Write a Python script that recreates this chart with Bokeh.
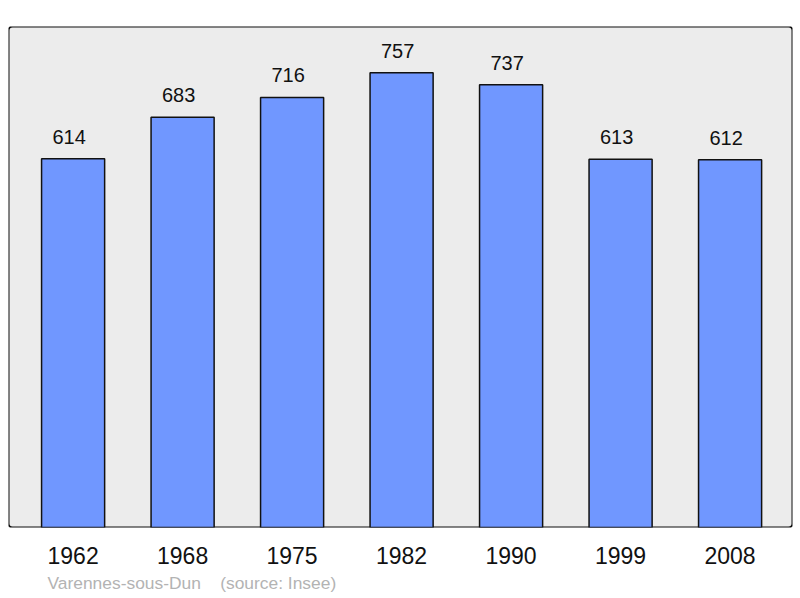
from bokeh.plotting import figure
from bokeh.models import ColumnDataSource, FixedTicker, BoxAnnotation, Title, Range1d
from bokeh.core.properties import value
from bokeh.embed import file_html
from bokeh.resources import INLINE

years = ["1962", "1968", "1975", "1982", "1990", "1999", "2008"]
population = [614, 683, 716, 757, 737, 613, 612]

xs = list(range(len(years)))
source = ColumnDataSource(data=dict(x=xs, top=population, label=[str(v) for v in population]))

p = figure(width=794, height=596, output_backend="svg", toolbar_location=None,
           x_range=Range1d(-0.59, 6.57), y_range=Range1d(0, 834),
           min_border_left=8, min_border_right=2, min_border_top=26, min_border_bottom=69)
p.background_fill_color = None
p.border_fill_color = "white"
p.outline_line_color = None
p.xgrid.visible = False
p.ygrid.visible = False
p.yaxis.visible = False

# grey panel with rounded black border behind the bars
frame = BoxAnnotation(fill_color="#ececec", fill_alpha=1.0, line_color="#111111",
                      line_alpha=1.0, line_width=2, border_radius=4, level="underlay")
p.add_layout(frame)

p.vbar(x="x", top="top", width=0.576, source=source,
       fill_color="#7097ff", line_color="#111111", line_width=1.5)

p.text(x="x", y="top", text="label", source=source, text_align="center",
       text_baseline="bottom", y_offset=-15, x_offset=-4, text_font=value("Liberation Sans"),
       text_font_size="20px", text_color="#111111")

p.xaxis.ticker = FixedTicker(ticks=xs)
p.xaxis.major_label_overrides = {i: y for i, y in enumerate(years)}
p.xaxis.axis_line_color = None
p.xaxis.major_tick_line_color = None
p.xaxis.minor_tick_line_color = None
p.xaxis.major_label_text_font = "Liberation Sans"
p.xaxis.major_label_text_font_size = "23px"
p.xaxis.major_label_text_color = "#111111"
p.xaxis.major_label_standoff = 13

source_note = Title(text="Varennes-sous-Dun\u00a0\u00a0\u00a0\u00a0(source: Insee)",
                    align="left", offset=39, standoff=8,
                    text_font="Liberation Sans", text_font_size="17.4px",
                    text_font_style="normal", text_color="#b3b3b3")
p.add_layout(source_note, "below")

open("out.html", "w").write(file_html(p, INLINE))
